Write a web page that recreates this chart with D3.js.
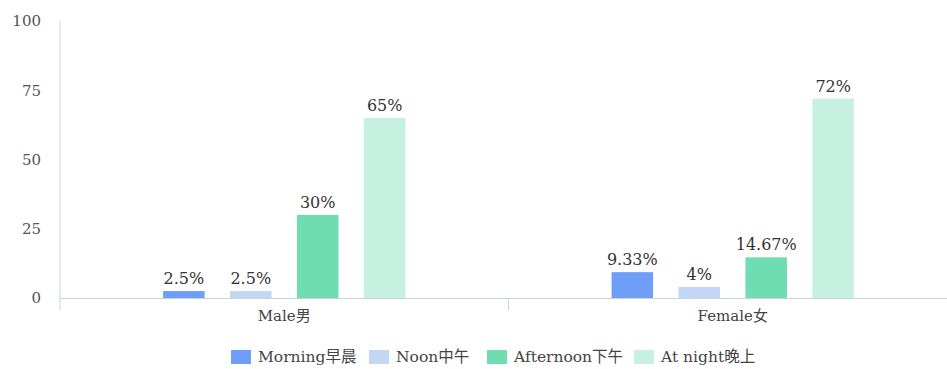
<!DOCTYPE html>
<html><head><meta charset="utf-8">
<script src="https://cdn.jsdelivr.net/npm/d3@7"></script>
<style>body{margin:0;background:#fff}svg{display:block}text{font-family:"DejaVu Serif","Noto Sans CJK SC",serif}</style>
</head><body>
<svg id="c" width="947" height="369"></svg>
<script>
const categories = ["Male男", "Female女"];
const series = ["Morning早晨", "Noon中午", "Afternoon下午", "At night晚上"];
const maleValues = [2.5, 2.5, 30, 65];
const femaleValues = [9.33, 4, 14.67, 72];
const valueLabels = [["2.5%", "2.5%", "30%", "65%"], ["9.33%", "4%", "14.67%", "72%"]];
const yTicks = [0, 25, 50, 75, 100];
const colors = ["#6f9ef8", "#c3d6f6", "#6fdcb1", "#c6f0df"];

const values = [maleValues, femaleValues];
const svg = d3.select("#c");
const font = '"DejaVu Serif","Noto Sans CJK SC",serif';
const x0 = d3.scaleBand().domain(categories).range([60, 957]);
const y = d3.scaleLinear().domain([0, 100]).range([298, 21]);

// y axis
const yAxis = svg.append("g").attr("transform", "translate(60,0)")
  .call(d3.axisLeft(y).tickValues(yTicks).tickSize(0).tickPadding(19));
yAxis.select(".domain").attr("stroke", "#c9d3dc").attr("d", "M0,21V310");
yAxis.selectAll("text").attr("fill", "#555").style("font-size", "15px").style("font-family", font);

// x axis
const xAxis = svg.append("g").attr("transform", "translate(0,298)")
  .call(d3.axisBottom(x0).tickSize(0).tickPadding(12));
xAxis.select(".domain").attr("stroke", "#c9d3dc");
xAxis.selectAll("text").attr("fill", "#444").style("font-size", "15px").style("font-family", font);
svg.append("g").selectAll("line").data(categories.slice(1)).join("line")
  .attr("x1", d => x0(d)).attr("x2", d => x0(d)).attr("y1", 298).attr("y2", 310)
  .attr("stroke", "#c9d3dc");

// bars
const inner = d3.scaleBand().domain(series)
  .range([0, x0.bandwidth()]).paddingInner(0.38).paddingOuter(1.54);
categories.forEach((c, ci) => {
  const g = svg.append("g");
  g.selectAll("rect").data(values[ci]).join("rect")
    .attr("x", (d, i) => x0(c) + inner(series[i]))
    .attr("y", d => y(d))
    .attr("width", inner.bandwidth())
    .attr("height", d => y(0) - y(d))
    .attr("fill", (d, i) => colors[i]);
  g.selectAll("text").data(values[ci]).join("text")
    .attr("x", (d, i) => x0(c) + inner(series[i]) + inner.bandwidth() / 2)
    .attr("y", d => y(d) - 7)
    .attr("text-anchor", "middle")
    .attr("fill", "#333").style("font-size", "16px")
    .text((d, i) => valueLabels[ci][i]);
});

// legend
const legendX = [231, 369, 487, 634];
const lg = svg.append("g");
series.forEach((s, i) => {
  lg.append("rect").attr("x", legendX[i]).attr("y", 350).attr("width", 20).attr("height", 14).attr("fill", colors[i]);
  lg.append("text").attr("x", legendX[i] + 27).attr("y", 362).attr("fill", "#444")
    .style("font-size", "15.5px").text(s);
});
</script>
</body></html>
